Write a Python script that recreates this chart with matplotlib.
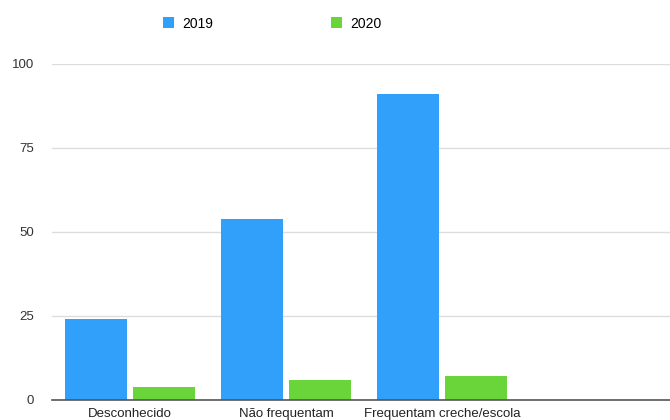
import numpy as np
import matplotlib.pyplot as plt

plt.rcParams['font.family'] = ['Liberation Sans', 'DejaVu Sans']

# Data
categories = ['Desconhecido', 'Não frequentam', 'Frequentam creche/escola', '']
values_2019 = [24, 54, 91, 0]
values_2020 = [4, 6, 7, 0]
series_labels = ['2019', '2020']
y_ticks = [0, 25, 50, 75, 100]

blue = '#31a0fb'
green = '#6ad53a'

fig = plt.figure(figsize=(6.7, 4.2), dpi=100)
ax = fig.add_axes([52 / 670, 20 / 420, 1 - 52 / 670, (400 - 64) / 420])

x = np.arange(len(categories))
w = 0.4
ax.bar(x - 0.218, values_2019, w, color=blue, label=series_labels[0], zorder=3)
ax.bar(x + 0.218, values_2020, w, color=green, label=series_labels[1], zorder=3)

ax.set_xlim(-0.5, 3.46)
ax.set_ylim(0, 100)
ax.set_yticks(y_ticks)
ax.set_xticks(x[:3])
ax.set_xticklabels(categories[:3], fontsize=9.5, color='#222222')
ax.tick_params(axis='y', length=0, pad=13, labelsize=9.5, labelcolor='#333333')
ax.tick_params(axis='x', length=0, pad=6)
ax.grid(axis='y', color='#dddddd', lw=1, zorder=0)
for s in ['top', 'right', 'left']:
    ax.spines[s].set_visible(False)
ax.spines['bottom'].set_color('#555555')
ax.spines['bottom'].set_linewidth(1.2)
ax.spines['bottom'].set_zorder(4)

fig.legend(loc='upper left', bbox_to_anchor=(150 / 670, 1 - 4 / 420), ncol=2,
           frameon=False, handlelength=0.8, handleheight=0.8, handletextpad=0.6,
           columnspacing=8.5, fontsize=10)

fig.savefig('out.png', dpi=100)
